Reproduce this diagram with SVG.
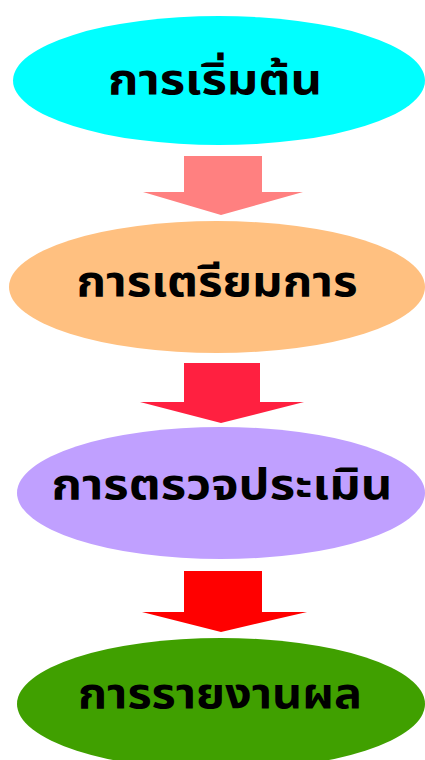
<svg xmlns="http://www.w3.org/2000/svg" width="425" height="760" viewBox="0 0 425 760">
<style>
.lbl{font-family:"Noto Sans Thai","Noto Sans","Liberation Sans","DejaVu Sans",sans-serif;font-weight:bold;font-size:42px;fill:#000;text-anchor:middle}
</style>
<rect width="425" height="760" fill="#fff"/>
<g id="connectors">
<polygon id="a1" points="184,156 262,156 262,192 303,192 221,215 143,192 184,192" fill="#FF8080"/>
<polygon id="a2" points="184,363 260,363 260,402 304,402 221,423 140,402 184,402" fill="#FF2040"/>
<polygon id="a3" points="184,571 262,571 262,612 307,612 221,632 142,612 184,612" fill="#FF0000"/>
</g>
<g id="n1"><ellipse cx="219" cy="80.5" rx="206" ry="64.5" fill="#00FFFF"/><text class="lbl" x="215" y="94" textLength="214" lengthAdjust="spacingAndGlyphs">การเริ่มต้น</text></g>
<g id="n2"><ellipse cx="217" cy="287" rx="208" ry="66" fill="#FFC080"/><text class="lbl" x="217" y="296" textLength="281" lengthAdjust="spacingAndGlyphs">การเตรียมการ</text></g>
<g id="n3"><ellipse cx="221" cy="493" rx="204" ry="66" fill="#C0A0FF"/><text class="lbl" x="222" y="499" textLength="341" lengthAdjust="spacingAndGlyphs">การตรวจประเมิน</text></g>
<g id="n4"><ellipse cx="221" cy="704" rx="204" ry="66" fill="#40A000"/><text class="lbl" x="220" y="708" textLength="284" lengthAdjust="spacingAndGlyphs">การรายงานผล</text></g>
</svg>
